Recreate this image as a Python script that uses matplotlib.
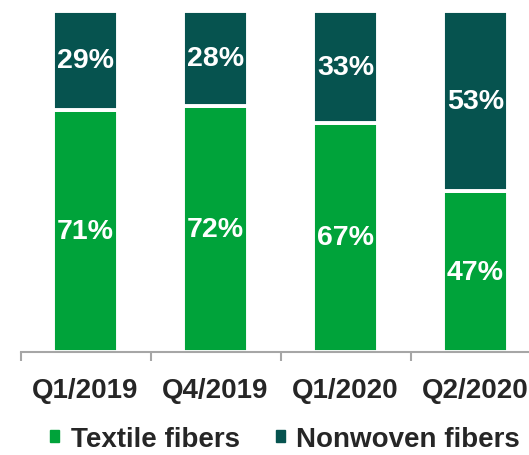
import matplotlib.pyplot as plt
from matplotlib.patches import Patch

quarters = ["Q1/2019", "Q4/2019", "Q1/2020", "Q2/2020"]
textile = [71, 72, 67, 47]
nonwoven = [29, 28, 33, 53]

green = "#00A33A"
teal = "#06534F"

plt.rcParams['font.family'] = ['Liberation Sans', 'DejaVu Sans']

fig = plt.figure(figsize=(5.29, 4.56), dpi=100)
# axes bottom sits on the x axis line, bars run up to (and past) the top edge
ax = fig.add_axes([0, (456 - 352.7) / 456, 1, 352.7 / 456])

x = list(range(len(quarters)))
# white edge makes the gap between the two segments; width padded to offset it
ax.bar(x, textile, width=0.505, color=green, edgecolor="white", linewidth=2.8)
ax.bar(x, nonwoven, bottom=textile, width=0.505, color=teal, edgecolor="white", linewidth=2.8)

for i in x:
    ax.text(i, textile[i] / 2, f"{textile[i]}%", ha="center", va="center",
            color="white", fontsize=20.5, fontweight="bold")
    ax.text(i, textile[i] + nonwoven[i] / 2, f"{nonwoven[i]}%", ha="center", va="center",
            color="white", fontsize=20.5, fontweight="bold")

ax.set_xlim(-85.5 / 130, (529 - 85.5) / 130)
ax.set_ylim(0, 352.7 / 3.41)

for s in ["left", "right", "top"]:
    ax.spines[s].set_visible(False)
ax.spines["bottom"].set_color("#A6A6A6")
ax.spines["bottom"].set_linewidth(1.5)
ax.spines["bottom"].set_bounds(-0.5, 3.6)
ax.spines["bottom"].set_zorder(3)

ax.set_yticks([])
# separator ticks between categories
ax.set_xticks([-0.5, 0.5, 1.5, 2.5])
ax.set_xticklabels([])
ax.tick_params(axis="x", which="major", length=6.5, width=1.5, color="#A6A6A6")
ax.set_xticks(x, minor=True)
ax.set_xticklabels(quarters, minor=True, fontsize=20, fontweight="bold", color="#262626")
ax.tick_params(axis="x", which="minor", length=0, pad=18)

handles = [Patch(color=green), Patch(color=teal)]
fig.legend(handles, ["Textile fibers", "Nonwoven fibers"], loc="center",
           bbox_to_anchor=(285 / 529, 1 - 440 / 456), ncol=2, frameon=False,
           prop={"size": 20, "weight": "bold"}, handlelength=0.33, handleheight=0.33,
           handletextpad=0.4, columnspacing=1.3, labelcolor="#262626")

fig.savefig("out.png", dpi=100)
